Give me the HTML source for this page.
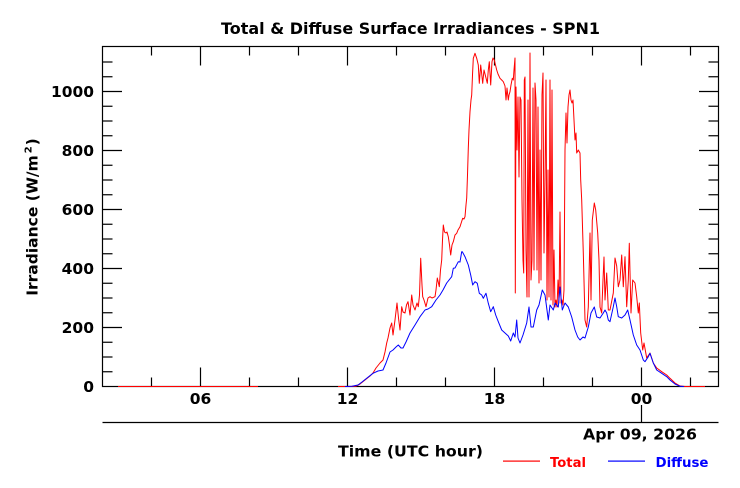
<!DOCTYPE html>
<html>
<head>
<meta charset="utf-8">
<style>
  html,body{margin:0;padding:0;background:#fff;}
  svg{display:block;}
  text{font-family:"DejaVu Sans","Liberation Sans",sans-serif;font-weight:bold;}
</style>
</head>
<body>
<svg width="740" height="488" viewBox="0 0 740 488" xmlns="http://www.w3.org/2000/svg">
  <rect x="0" y="0" width="740" height="488" fill="#fff"/>

  <text x="410.5" y="34" font-size="16" fill="#000" text-anchor="middle" textLength="379" lengthAdjust="spacingAndGlyphs">Total &amp; Diffuse Surface Irradiances - SPN1</text>

  <rect x="102.5" y="46.5" width="616" height="340" fill="none" stroke="#000" stroke-width="1.2"/>

  <g stroke="#000" stroke-width="1.2">
    <line x1="102.5" y1="327.5" x2="122" y2="327.5"/>
    <line x1="102.5" y1="268.5" x2="122" y2="268.5"/>
    <line x1="102.5" y1="209.5" x2="122" y2="209.5"/>
    <line x1="102.5" y1="150.5" x2="122" y2="150.5"/>
    <line x1="102.5" y1="91.5" x2="122" y2="91.5"/>
    <line x1="718.5" y1="327.5" x2="699" y2="327.5"/>
    <line x1="718.5" y1="268.5" x2="699" y2="268.5"/>
    <line x1="718.5" y1="209.5" x2="699" y2="209.5"/>
    <line x1="718.5" y1="150.5" x2="699" y2="150.5"/>
    <line x1="718.5" y1="91.5" x2="699" y2="91.5"/>
    <line x1="102.5" y1="371.75" x2="112.5" y2="371.75"/>
    <line x1="102.5" y1="357" x2="112.5" y2="357"/>
    <line x1="102.5" y1="342.25" x2="112.5" y2="342.25"/>
    <line x1="102.5" y1="312.75" x2="112.5" y2="312.75"/>
    <line x1="102.5" y1="298" x2="112.5" y2="298"/>
    <line x1="102.5" y1="283.25" x2="112.5" y2="283.25"/>
    <line x1="102.5" y1="253.75" x2="112.5" y2="253.75"/>
    <line x1="102.5" y1="239" x2="112.5" y2="239"/>
    <line x1="102.5" y1="224.25" x2="112.5" y2="224.25"/>
    <line x1="102.5" y1="194.75" x2="112.5" y2="194.75"/>
    <line x1="102.5" y1="180" x2="112.5" y2="180"/>
    <line x1="102.5" y1="165.25" x2="112.5" y2="165.25"/>
    <line x1="102.5" y1="135.75" x2="112.5" y2="135.75"/>
    <line x1="102.5" y1="121" x2="112.5" y2="121"/>
    <line x1="102.5" y1="106.25" x2="112.5" y2="106.25"/>
    <line x1="102.5" y1="76.75" x2="112.5" y2="76.75"/>
    <line x1="102.5" y1="62" x2="112.5" y2="62"/>
    <line x1="718.5" y1="371.75" x2="708.5" y2="371.75"/>
    <line x1="718.5" y1="357" x2="708.5" y2="357"/>
    <line x1="718.5" y1="342.25" x2="708.5" y2="342.25"/>
    <line x1="718.5" y1="312.75" x2="708.5" y2="312.75"/>
    <line x1="718.5" y1="298" x2="708.5" y2="298"/>
    <line x1="718.5" y1="283.25" x2="708.5" y2="283.25"/>
    <line x1="718.5" y1="253.75" x2="708.5" y2="253.75"/>
    <line x1="718.5" y1="239" x2="708.5" y2="239"/>
    <line x1="718.5" y1="224.25" x2="708.5" y2="224.25"/>
    <line x1="718.5" y1="194.75" x2="708.5" y2="194.75"/>
    <line x1="718.5" y1="180" x2="708.5" y2="180"/>
    <line x1="718.5" y1="165.25" x2="708.5" y2="165.25"/>
    <line x1="718.5" y1="135.75" x2="708.5" y2="135.75"/>
    <line x1="718.5" y1="121" x2="708.5" y2="121"/>
    <line x1="718.5" y1="106.25" x2="708.5" y2="106.25"/>
    <line x1="718.5" y1="76.75" x2="708.5" y2="76.75"/>
    <line x1="718.5" y1="62" x2="708.5" y2="62"/>
  </g>

  <g stroke="#000" stroke-width="1.2">
    <line x1="200.5" y1="386.5" x2="200.5" y2="367.5"/>
    <line x1="347.5" y1="386.5" x2="347.5" y2="367.5"/>
    <line x1="494.5" y1="386.5" x2="494.5" y2="367.5"/>
    <line x1="641.5" y1="386.5" x2="641.5" y2="367.5"/>
    <line x1="200.5" y1="46.5" x2="200.5" y2="65.5"/>
    <line x1="347.5" y1="46.5" x2="347.5" y2="65.5"/>
    <line x1="494.5" y1="46.5" x2="494.5" y2="65.5"/>
    <line x1="641.5" y1="46.5" x2="641.5" y2="65.5"/>
    <line x1="151.5" y1="386.5" x2="151.5" y2="377.5"/>
    <line x1="249.5" y1="386.5" x2="249.5" y2="377.5"/>
    <line x1="298.5" y1="386.5" x2="298.5" y2="377.5"/>
    <line x1="396.5" y1="386.5" x2="396.5" y2="377.5"/>
    <line x1="445.5" y1="386.5" x2="445.5" y2="377.5"/>
    <line x1="543.5" y1="386.5" x2="543.5" y2="377.5"/>
    <line x1="592.5" y1="386.5" x2="592.5" y2="377.5"/>
    <line x1="690.5" y1="386.5" x2="690.5" y2="377.5"/>
    <line x1="151.5" y1="46.5" x2="151.5" y2="55.5"/>
    <line x1="249.5" y1="46.5" x2="249.5" y2="55.5"/>
    <line x1="298.5" y1="46.5" x2="298.5" y2="55.5"/>
    <line x1="396.5" y1="46.5" x2="396.5" y2="55.5"/>
    <line x1="445.5" y1="46.5" x2="445.5" y2="55.5"/>
    <line x1="543.5" y1="46.5" x2="543.5" y2="55.5"/>
    <line x1="592.5" y1="46.5" x2="592.5" y2="55.5"/>
    <line x1="690.5" y1="46.5" x2="690.5" y2="55.5"/>
  </g>

  <polyline fill="none" stroke="#ff0000" stroke-width="1" points="118,386.5 258,386.5"/>
  <polyline fill="none" stroke="#ff0000" stroke-width="1" stroke-linejoin="round" points="338,386.5 350,386.5 356,386.2 360,384 365,380 370,376 373,373 376,368 380,363 383,360 385,352 386.7,343 388,338 390,328 391.7,323 393,335 395,320 397,303 398.5,318 400,330 401.7,306.7 403,312 405,313 406.5,305 408,301.7 410,315 411.7,295 413,305 415,310 417,303 418.3,306.7 419.5,295 420.7,258.3 422,285 422.7,296.7 424,300 426,306.7 428,298 430,296.7 432,298 435,296.7 436,290 437.3,278 439.3,286.7 440.5,270 441.7,260 442.5,240 443.3,225 444.5,232 446,233 447,232 448.3,236.7 449.5,245 450.7,255 452,245 453.3,241.7 455,235 456.7,233.3 458,230 460,226.7 461.5,222 462.7,218.3 464,219 465,216.7 466,205 466.7,198 467.5,175 468.3,148.3 469,130 470,111.7 471,100 471.7,95 472.5,75 473.3,58.3 475,53.3 476.7,58.3 478.3,65 479.3,83.3 480.7,65 481.5,72 482.7,83.3 484,70 485,74 486,78 487.3,83.3 488.3,70 489.3,61.7 490.7,85 492,61.7 493,58 494.3,60 495.5,65 496.7,70 498,74 500,78.3 501.7,80 503.3,81.7 505,86 506,100 507,88 508.3,100 509,95 510,91.7 511,85 512.3,78.3 513.3,80 514,70 515,58 515.3,293 516,87 517,150 518,97 519,177 520,97 521,100 522,200 523,260 523.7,273 524.3,80 525,77 526,250 527,297 528,100 529,297 530,53 531,280 532,260 533,88 534,270 535,83 536,100 537,270 538,107 539,283 540,150 541,280 542,95 543,73 544,253 545,180 546,80 547,300 548,170 549,297 550,80 551,300 552,90 553,305 554,250 555,307 556,300 557,307 558,280 559,303 560,212 561,303 562,300 563,305 564,290 565,150 566,113 567,143 568,107 569,95 570,90 571,100 572,103 573,100 575,140 576,133 576.7,153 578.3,150 580,153 580.7,180 581.7,200 583.3,253 585,320 586.7,327 588.3,307 590,233 591,300 592.3,220 594.3,203 595.7,210 597.7,233 599,260 600,307 601.7,313 603,280 604,257 605,300 606.7,273 608.3,310 610,310 613.3,293 615,258 616.7,266 618.3,286.7 620,280 621.7,255 623.3,286.7 625,256.7 626.7,306.7 628.3,280 629.3,243.3 631,313 632.7,280 635,283 636.7,296.7 638.3,313 639.3,303 640.7,333 642.7,350 644,343 646.7,358 650,353 653.3,363 656.7,368 661.7,371.7 666.7,375 670,378.3 675,383 680,386 685,386.5 705,386.5"/>

  <polyline fill="none" stroke="#0000ff" stroke-width="1" stroke-linejoin="round" points="345,386.5 352,386.3 358,385 362,382 367,378 373,373.3 378,371 383,370 386,363 390,352 393,350 396,347 398.3,345 401,348 403,348 406,342 410,333 415,325 420,316.7 425,310 428,309 431.7,306.7 436,300 440,295 443,290 446.7,283 451.7,276.7 453.3,268.3 455,268 458.3,261.7 460,262 461.7,251.7 462.3,251.7 465,256.7 468.3,265 470.7,275 472.7,285 475,281.7 477.3,283.3 479.3,293.3 481.7,295 483.3,298.3 486,293.3 488.3,303.3 490.7,311.7 493.3,306.7 495.7,315 498.3,321.7 501.7,330 505,333 508.3,336 510.7,341 513.3,333 515,337 516.7,320 518,338 520,343 523,335 526.7,323 529,307 531,327 533.3,327 536.7,310 539,305 542.3,290 545,295 548.3,320 550,305 553.3,310 555,303 558.3,307 560,287 562.3,310 565,303 568.3,307 571.7,317 575,330 577.7,337 580,340 583,337 585,338 588.3,327 591,313 594.3,307 596.7,317 600,318 603.3,313 605,310 606.7,313 608.3,320 610,321.7 613.3,306.7 615,298 616.7,306.7 618.3,316.7 621.7,318 625,315 627.7,310 630,320 633.3,335 636.7,345 640,350 643.3,360 645,361.7 648.3,356.7 650,353.3 653.3,363 656.7,370 661.7,373.3 666.7,376.7 670,380 675,384 680,386.3 684,386.5"/>

  <g font-size="15.5" text-anchor="end" fill="#000">
    <text x="94" y="392.2">0</text>
    <text x="94" y="333.2">200</text>
    <text x="94" y="274.2">400</text>
    <text x="94" y="215.2">600</text>
    <text x="94" y="156.2">800</text>
    <text x="94" y="97.2" textLength="43" lengthAdjust="spacingAndGlyphs">1000</text>
  </g>

  <g font-size="15.5" text-anchor="middle" fill="#000">
    <text x="200.5" y="404">06</text>
    <text x="347.5" y="404">12</text>
    <text x="494.5" y="404">18</text>
    <text x="641.5" y="404">00</text>
  </g>

  <line x1="102.5" y1="422.5" x2="718.5" y2="422.5" stroke="#000" stroke-width="1.2"/>
  <line x1="641.5" y1="422.5" x2="641.5" y2="405" stroke="#000" stroke-width="1.2"/>
  <text x="583" y="439.5" font-size="15.5" fill="#000" textLength="114" lengthAdjust="spacingAndGlyphs">Apr 09, 2026</text>

  <text x="338" y="456.5" font-size="15.5" fill="#000" textLength="145" lengthAdjust="spacingAndGlyphs">Time (UTC hour)</text>

  <g transform="translate(37.5,217) rotate(-90)">
    <text x="0" y="0" font-size="15.5" fill="#000" text-anchor="middle">Irradiance (W/m<tspan dx="2" dy="-6" font-size="10">2</tspan><tspan dx="1" dy="6">)</tspan></text>
  </g>

  <rect x="503" y="460.5" width="37" height="1.2" fill="#ff0000"/>
  <text x="550" y="467" font-size="13.5" fill="#ff0000" textLength="36" lengthAdjust="spacingAndGlyphs">Total</text>
  <rect x="608" y="460.5" width="37" height="1.2" fill="#0000ff"/>
  <text x="655.5" y="467" font-size="13.5" fill="#0000ff" textLength="53" lengthAdjust="spacingAndGlyphs">Diffuse</text>
</svg>
</body>
</html>
